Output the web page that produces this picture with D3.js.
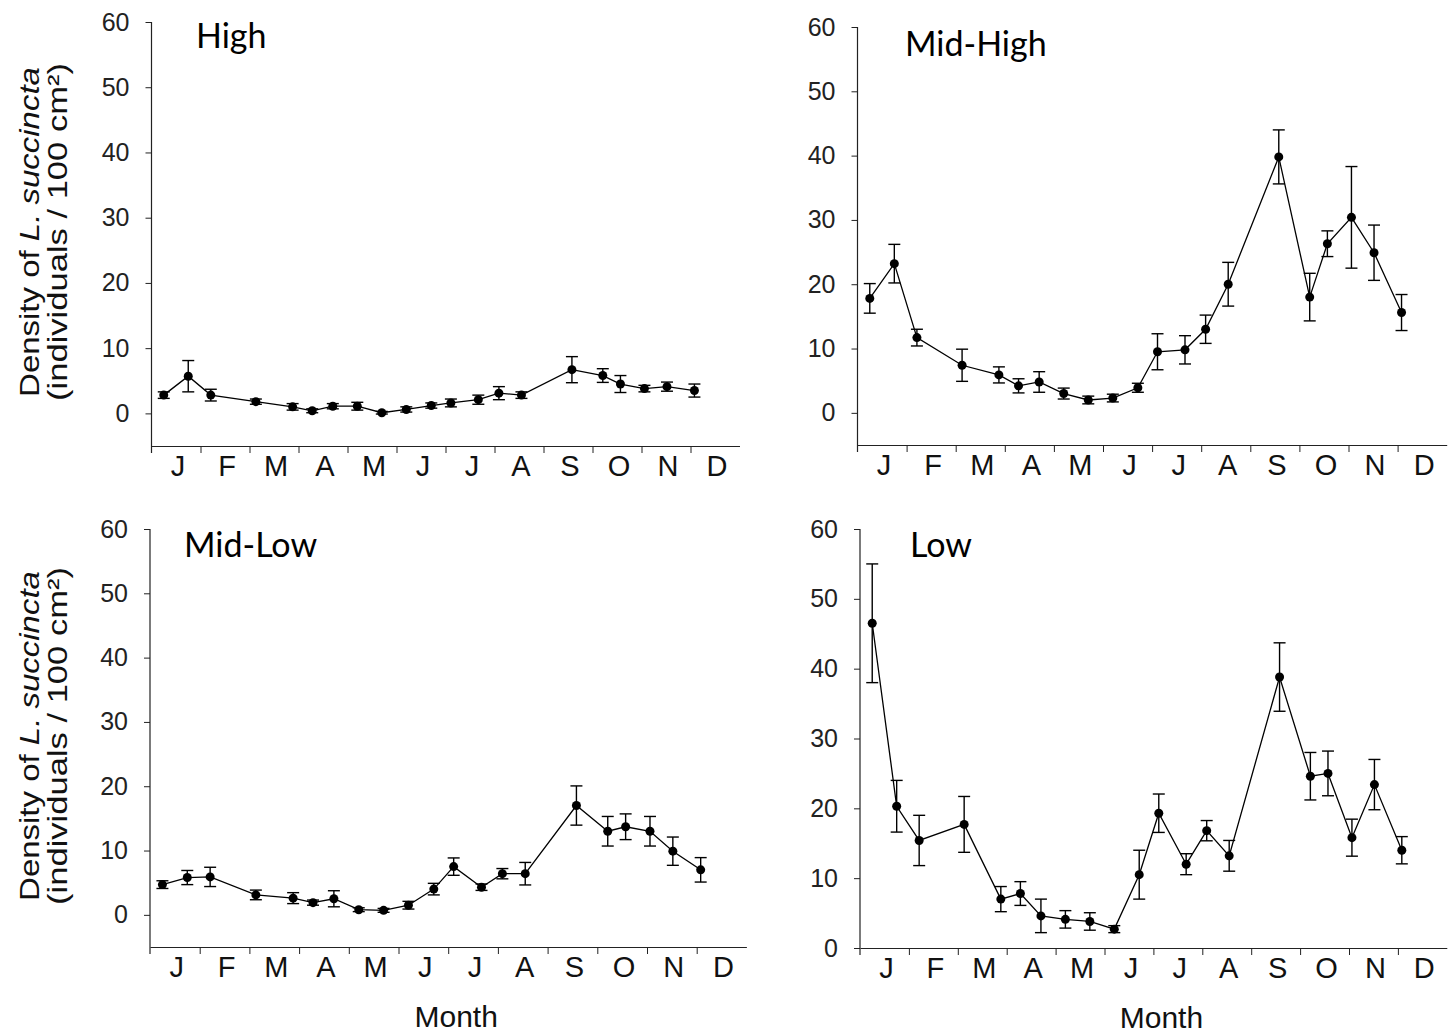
<!DOCTYPE html>
<meta charset="utf-8">
<script src="https://d3js.org/d3.v7.min.js"></script>
<style>
  body { margin: 0; background: #fff; }
  svg { display: block; }
</style>
<div id="chart"></div>
<script>
// sampling dates, in months from 1 January
const sampleMonth = [0.25, 0.75, 1.21, 2.13, 2.88, 3.28, 3.70, 4.20, 4.70, 5.20, 5.71,
                     6.11, 6.67, 7.09, 7.55, 8.58, 9.21, 9.57, 10.06, 10.52, 11.08];
const monthLabels = ["J", "F", "M", "A", "M", "J", "J", "A", "S", "O", "N", "D"];
const yTicks = [0, 10, 20, 30, 40, 50, 60];

// mean density and standard error for each shore level
const highMean = [2.8, 5.7, 2.8, 1.8, 1.0, 0.4, 1.1, 1.1, 0.1, 0.6, 1.2, 1.6, 2.1, 3.1, 2.8, 6.7, 5.8, 4.5, 3.8, 4.1, 3.5];
const highSe   = [0.5, 2.4, 0.9, 0.4, 0.5, 0.3, 0.4, 0.6, 0.2, 0.4, 0.4, 0.6, 0.7, 1.0, 0.5, 2.0, 1.05, 1.3, 0.5, 0.7, 1.0];

const midHighMean = [17.8, 23.2, 11.7, 7.4, 5.9, 4.2, 4.8, 3.0, 2.0, 2.3, 3.9, 9.5, 9.8, 13.0, 20.0, 39.8, 18.0, 26.3, 30.4, 24.9, 15.6];
const midHighSe   = [2.3, 3.0, 1.3, 2.5, 1.25, 1.1, 1.6, 0.85, 0.6, 0.6, 0.7, 2.8, 2.2, 2.2, 3.4, 4.2, 3.7, 2.0, 7.9, 4.3, 2.8];

const midLowMean = [4.7, 5.8, 5.9, 3.1, 2.6, 1.9, 2.5, 0.8, 0.7, 1.5, 4.0, 7.5, 4.3, 6.4, 6.4, 17.0, 13.0, 13.7, 13.0, 9.9, 7.0];
const midLowSe   = [0.6, 1.1, 1.5, 0.75, 0.85, 0.4, 1.25, 0.3, 0.3, 0.6, 0.9, 1.35, 0.5, 0.8, 1.75, 3.05, 2.3, 2.0, 2.3, 2.2, 1.9];

const lowMean = [46.5, 20.3, 15.4, 17.7, 7.0, 7.8, 4.6, 4.1, 3.8, 2.7, 10.5, 19.3, 12.0, 16.8, 13.2, 38.8, 24.6, 25.0, 15.8, 23.4, 14.0];
const lowSe   = [8.5, 3.7, 3.6, 4.0, 1.8, 1.7, 2.4, 1.25, 1.25, 0.5, 3.5, 2.75, 1.5, 1.45, 2.2, 4.9, 3.4, 3.2, 2.65, 3.6, 1.95];

const width = 1448, height = 1034;

const svg = d3.select("#chart")
  .append("svg")
  .attr("width", width)
  .attr("height", height);

// panel frames: left edge of the x axis, width of a month, y range
const panels = [
  {title: "High",     mean: highMean,    se: highSe,    left: 151.5, monthW: 49.0, yMin: -5, top: 22,  bottom: 446,
   titleX: 196, titleY: 48, yTitle: true},
  {title: "Mid-High", mean: midHighMean, se: midHighSe, left: 857.5, monthW: 49.1, yMin: -5, top: 27,  bottom: 445,
   titleX: 905, titleY: 56},
  {title: "Mid-Low",  mean: midLowMean,  se: midLowSe,  left: 150,   monthW: 49.7, yMin: -5, top: 529, bottom: 947,
   titleX: 184, titleY: 557, yTitle: true, xTitle: true},
  {title: "Low",      mean: lowMean,     se: lowSe,     left: 860,   monthW: 48.9, yMin: 0,  top: 529, bottom: 948,
   titleX: 910, titleY: 557, xTitle: true}
];

const tickFont = "'Liberation Sans', Arial, sans-serif";

panels.forEach(p => {
  const x = d3.scaleLinear().domain([0, 12]).range([p.left, p.left + 12 * p.monthW]);
  const y = d3.scaleLinear().domain([p.yMin, 60]).range([p.bottom, p.top]);
  const g = svg.append("g");

  // y axis
  const ya = g.append("g")
    .attr("transform", `translate(${p.left},0)`)
    .call(d3.axisLeft(y).tickValues(yTicks).tickSize(6).tickSizeOuter(0).tickPadding(16));
  ya.select(".domain").remove();
  ya.selectAll("text")
    .attr("font-family", tickFont)
    .attr("font-size", 25)
    .attr("fill", "#222");
  ya.selectAll("line").attr("stroke", "#222");

  // y axis line runs a little below the x axis
  g.append("line")
    .attr("x1", p.left).attr("x2", p.left)
    .attr("y1", y(60)).attr("y2", p.bottom + 7)
    .attr("stroke", "#222").attr("stroke-width", 1.2);

  // x axis with month boundary ticks
  const xa = g.append("g")
    .attr("transform", `translate(0,${p.bottom})`)
    .call(d3.axisBottom(x).tickValues(d3.range(1, 12)).tickSize(7).tickSizeOuter(0).tickFormat(""));
  xa.select(".domain").attr("stroke", "#222").attr("stroke-width", 1.2);
  xa.selectAll("line").attr("stroke", "#222");

  g.selectAll(".month")
    .data(monthLabels)
    .join("text")
      .attr("class", "month")
      .attr("x", (d, i) => x(i + 0.5) + 2)
      .attr("y", p.bottom + 30)
      .attr("text-anchor", "middle")
      .attr("font-family", tickFont)
      .attr("font-size", 29)
      .attr("fill", "#111")
      .text(d => d);

  const pts = sampleMonth.map((m, i) => ({m: m, v: p.mean[i], e: p.se[i]}));

  // connecting line
  g.append("path")
    .datum(pts)
    .attr("fill", "none")
    .attr("stroke", "#000")
    .attr("stroke-width", 1.3)
    .attr("d", d3.line().x(d => x(d.m)).y(d => y(d.v)));

  // error bars
  const eb = g.append("g").attr("stroke", "#000").attr("stroke-width", 1.4);
  eb.selectAll(".stem")
    .data(pts)
    .join("line")
      .attr("x1", d => x(d.m)).attr("x2", d => x(d.m))
      .attr("y1", d => y(d.v + d.e)).attr("y2", d => y(d.v - d.e));
  eb.selectAll(".capTop")
    .data(pts)
    .join("line")
      .attr("class", "capTop")
      .attr("x1", d => x(d.m) - 6).attr("x2", d => x(d.m) + 6)
      .attr("y1", d => y(d.v + d.e)).attr("y2", d => y(d.v + d.e));
  eb.selectAll(".capBot")
    .data(pts)
    .join("line")
      .attr("class", "capBot")
      .attr("x1", d => x(d.m) - 6).attr("x2", d => x(d.m) + 6)
      .attr("y1", d => y(d.v - d.e)).attr("y2", d => y(d.v - d.e));

  // markers
  g.selectAll("circle")
    .data(pts)
    .join("circle")
      .attr("cx", d => x(d.m))
      .attr("cy", d => y(d.v))
      .attr("r", 4.5)
      .attr("fill", "#000");

  // panel title
  g.append("text")
    .attr("x", p.titleX)
    .attr("y", p.titleY)
    .attr("font-family", "Lato, 'Open Sans', sans-serif")
    .attr("font-size", 34)
    .attr("fill", "#000")
    .text(p.title);

  if (p.xTitle) {
    g.append("text")
      .attr("x", x(6) + 8)
      .attr("y", p.bottom + 80)
      .attr("text-anchor", "middle")
      .attr("font-family", tickFont)
      .attr("font-size", 30)
      .attr("fill", "#111")
      .text("Month");
  }

  if (p.yTitle) {
    const cy = (y(60) + y(p.yMin)) / 2 - 2;
    const t1 = g.append("text")
      .attr("text-anchor", "middle")
      .attr("font-family", tickFont)
      .attr("font-size", 27)
      .attr("fill", "#111");
    t1.append("tspan").text("Density of ");
    t1.append("tspan").attr("font-style", "italic").text("L. succincta");
    const t2 = g.append("text")
      .attr("text-anchor", "middle")
      .attr("font-family", tickFont)
      .attr("font-size", 27)
      .attr("fill", "#111")
      .text("(individuals / 100 cm²)");
    // stretch each line along its direction to the length seen in the figure
    [[t1, 39, 330], [t2, 67, 338]].forEach(([t, bx, len]) => {
      const w = t.node().getComputedTextLength();
      t.attr("transform", `translate(${bx},${cy}) rotate(-90) scale(${len / w},1)`);
    });
  }
});
</script>
</html>
